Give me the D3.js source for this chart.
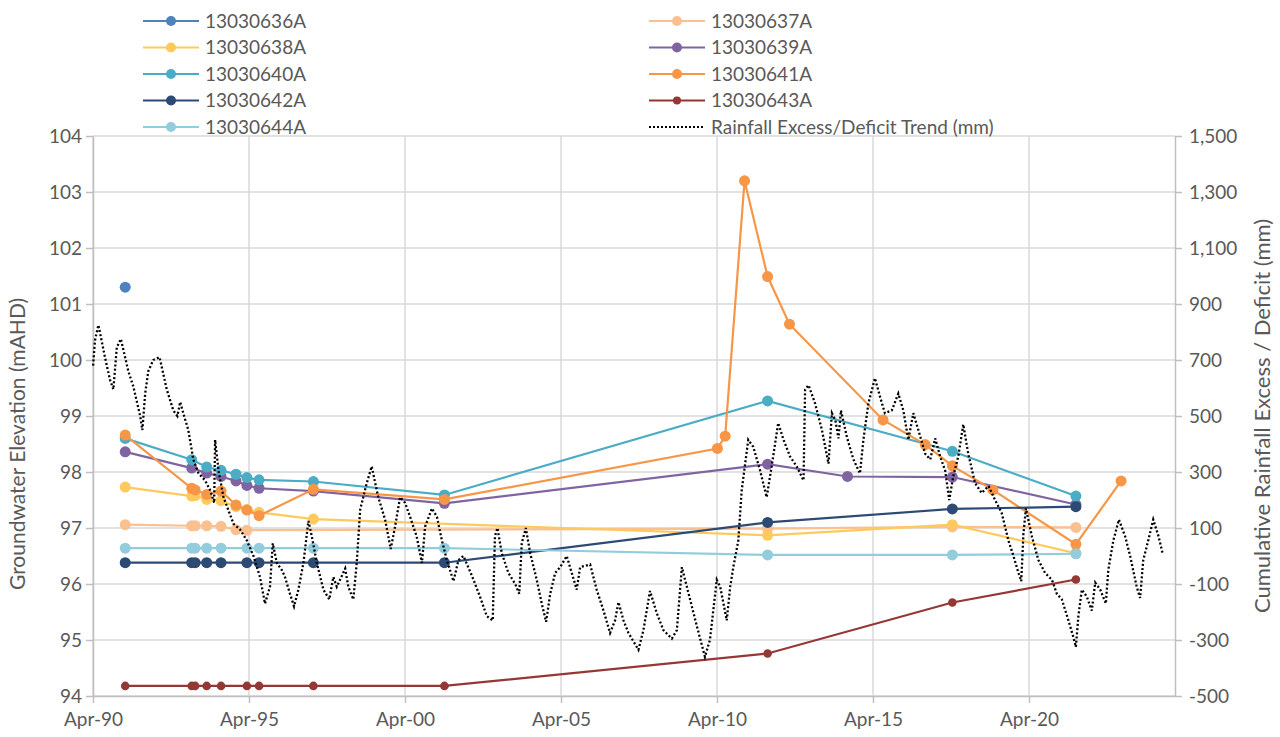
<!DOCTYPE html>
<html>
<head>
<meta charset="utf-8">
<script src="https://cdn.jsdelivr.net/npm/d3@7"></script>
<style>
  body { margin: 0; background: #fff; }
  svg text { font-family: Lato, "Open Sans", sans-serif; fill: #595959; }
</style>
</head>
<body>
<svg width="1280" height="737"></svg>
<script>
// sample dates are decimal years, levels in mAHD
var s636Years = [1991.28];
var s636Levels = [101.30];

var s637Years = [1991.28, 1993.41, 1993.52, 1993.89, 1994.35, 1994.83, 1995.18, 2011.87, 2017.79, 2021.75];
var s637Levels = [97.06, 97.04, 97.04, 97.04, 97.03, 96.97, 96.96, 96.99, 97.02, 97.01];

var s638Years = [1991.28, 1993.41, 1993.52, 1993.89, 1994.35, 1994.83, 1995.18, 1995.57, 1997.31, 2011.87, 2017.79, 2021.75];
var s638Levels = [97.73, 97.57, 97.58, 97.51, 97.49, 97.38, 97.33, 97.28, 97.16, 96.87, 97.06, 96.55];

var s639Years = [1991.28, 1993.41, 1993.89, 1994.35, 1994.83, 1995.18, 1995.57, 1997.31, 2001.51, 2011.87, 2014.43, 2017.79, 2021.75];
var s639Levels = [98.36, 98.07, 97.98, 97.92, 97.84, 97.76, 97.71, 97.66, 97.44, 98.14, 97.92, 97.91, 97.42];

var s640Years = [1991.28, 1993.41, 1993.89, 1994.35, 1994.83, 1995.18, 1995.57, 1997.31, 2001.51, 2011.87, 2017.79, 2021.75];
var s640Levels = [98.60, 98.22, 98.09, 98.03, 97.96, 97.90, 97.86, 97.83, 97.59, 99.27, 98.37, 97.57];

var s641Years = [1991.28, 1993.41, 1993.52, 1993.89, 1994.35, 1994.83, 1995.18, 1995.57, 1997.31, 2001.51,
  2010.26, 2010.51, 2011.13, 2011.87, 2012.57, 2015.57, 2016.92, 2017.79, 2019.09, 2021.75, 2023.20];
var s641Levels = [98.66, 97.71, 97.68, 97.60, 97.66, 97.41, 97.32, 97.22, 97.69, 97.51,
  98.42, 98.64, 103.20, 101.49, 100.64, 98.93, 98.49, 98.11, 97.68, 96.71, 97.84];

var s642Years = [1991.28, 1993.41, 1993.52, 1993.89, 1994.35, 1995.18, 1995.57, 1997.31, 2001.51, 2011.87, 2017.79, 2021.75];
var s642Levels = [96.38, 96.38, 96.38, 96.38, 96.38, 96.38, 96.38, 96.38, 96.38, 97.10, 97.34, 97.38];

var s643Years = [1991.28, 1993.41, 1993.52, 1993.89, 1994.35, 1995.18, 1995.57, 1997.31, 2001.51, 2011.87, 2017.79, 2021.75];
var s643Levels = [94.18, 94.18, 94.18, 94.18, 94.18, 94.18, 94.18, 94.18, 94.18, 94.76, 95.67, 96.08];

var s644Years = [1991.28, 1993.41, 1993.52, 1993.89, 1994.35, 1995.18, 1995.57, 1997.31, 2001.51, 2011.87, 2017.79, 2021.75];
var s644Levels = [96.64, 96.64, 96.64, 96.64, 96.64, 96.64, 96.64, 96.64, 96.64, 96.52, 96.52, 96.54];

// rainfall excess / deficit trend (mm), right axis
var rainYears = [1990.25, 1990.31, 1990.42, 1990.63, 1990.79, 1990.90, 1991.01, 1991.14, 1991.38, 1991.54,
  1991.76, 1991.83, 1991.92, 1992.02, 1992.18, 1992.38, 1992.61, 1992.82, 1992.95, 1993.04,
  1993.14, 1993.30, 1993.46, 1993.63, 1993.84, 1994.00, 1994.13, 1994.16, 1994.27, 1994.43,
  1994.75, 1994.96, 1995.18, 1995.39, 1995.60, 1995.76, 1995.92, 1996.01, 1996.14, 1996.30,
  1996.40, 1996.56, 1996.69, 1996.83, 1996.99, 1997.15, 1997.26, 1997.42, 1997.63, 1997.82,
  1997.95, 1998.06, 1998.33, 1998.43, 1998.59, 1998.70, 1998.81, 1999.02, 1999.18, 1999.39,
  1999.61, 1999.79, 1999.93, 2000.09, 2000.25, 2000.41, 2000.62, 2000.79, 2000.89, 2001.11,
  2001.27, 2001.43, 2001.59, 2001.80, 2001.96, 2002.12, 2002.39, 2002.65, 2002.87, 2003.06,
  2003.13, 2003.21, 2003.35, 2003.56, 2003.78, 2003.91, 2003.99, 2004.12, 2004.26, 2004.47,
  2004.63, 2004.77, 2004.90, 2005.06, 2005.22, 2005.43, 2005.59, 2005.75, 2005.86, 2006.18,
  2006.39, 2006.61, 2006.82, 2006.98, 2007.09, 2007.25, 2007.41, 2007.73, 2007.89, 2008.10,
  2008.32, 2008.53, 2008.80, 2008.96, 2009.12, 2009.28, 2009.60, 2009.86, 2010.02, 2010.24,
  2010.35, 2010.56, 2010.67, 2010.77, 2010.93, 2011.04, 2011.25, 2011.41, 2011.63, 2011.84,
  2012.00, 2012.21, 2012.38, 2012.59, 2012.80, 2013.02, 2013.07, 2013.18, 2013.39, 2013.61,
  2013.82, 2013.93, 2014.04, 2014.14, 2014.22, 2014.41, 2014.62, 2014.83, 2014.94, 2015.10,
  2015.31, 2015.47, 2015.63, 2015.85, 2016.06, 2016.22, 2016.38, 2016.54, 2016.70, 2016.92,
  2017.08, 2017.24, 2017.40, 2017.56, 2017.69, 2017.82, 2017.98, 2018.14, 2018.30, 2018.52,
  2018.73, 2018.95, 2019.16, 2019.37, 2019.59, 2019.75, 2019.91, 2020.00, 2020.07, 2020.15,
  2020.34, 2020.55, 2020.76, 2020.98, 2021.14, 2021.30, 2021.51, 2021.67, 2021.75, 2021.83,
  2021.94, 2022.10, 2022.26, 2022.37, 2022.53, 2022.71, 2022.79, 2022.95, 2023.13, 2023.33,
  2023.49, 2023.70, 2023.81, 2023.91, 2024.07, 2024.23, 2024.40, 2024.54];
var rainMm = [680, 770, 825, 710, 630, 595, 745, 775, 660, 605,
  500, 450, 580, 660, 700, 710, 595, 520, 500, 550,
  510, 450, 345, 295, 270, 235, 190, 415, 305, 210,
  115, 95, 55, 0, -75, -170, -110, 45, -25, -50,
  -75, -135, -180, -120, -25, 125, 70, -25, -120, -155,
  -75, -110, -45, -110, -155, -25, 165, 260, 320, 210,
  130, 25, 105, 210, 190, 140, 70, -25, 105, 170,
  140, 55, -15, -90, -15, 0, -70, -145, -215, -230,
  70, 100, 10, -60, -100, -135, 45, 100, 10, -85,
  -170, -235, -135, -60, -40, 0, -60, -120, -40, -30,
  -120, -195, -275, -230, -165, -230, -275, -335, -265, -125,
  -205, -265, -295, -265, -40, -110, -250, -360, -300, -85,
  -110, -230, -110, -40, 55, 235, 415, 390, 305, 210,
  320, 475, 415, 355, 320, 270, 595, 610, 545, 450,
  330, 510, 485, 420, 520, 425, 345, 295, 415, 545,
  635, 570, 510, 520, 580, 520, 415, 510, 450, 365,
  345, 420, 355, 305, 200, 285, 355, 470, 365, 260,
  225, 250, 200, 155, 55, 0, -60, -90, 80, 170,
  70, -15, -60, -85, -135, -155, -230, -290, -325, -215,
  -120, -145, -195, -95, -120, -170, -50, 55, 130, 70,
  0, -110, -150, -15, 55, 130, 70, 5];

var leftTicks = [94, 95, 96, 97, 98, 99, 100, 101, 102, 103, 104];
var rightTicks = [-500, -300, -100, 100, 300, 500, 700, 900, 1100, 1300, 1500];
var xTickYears = [1990, 1995, 2000, 2005, 2010, 2015, 2020];

var seriesNames = ['13030636A', '13030637A', '13030638A', '13030639A', '13030640A',
  '13030641A', '13030642A', '13030643A', '13030644A'];
var seriesColors = ['#4F81BD', '#FAC090', '#FFC95E', '#8064A2', '#4BACC6',
  '#F79646', '#2C4A74', '#953735', '#93CDDD'];
var seriesYears = [s636Years, s637Years, s638Years, s639Years, s640Years, s641Years, s642Years, s643Years, s644Years];
var seriesLevels = [s636Levels, s637Levels, s638Levels, s639Levels, s640Levels, s641Levels, s642Levels, s643Levels, s644Levels];
var rainName = 'Rainfall Excess/Deficit Trend (mm)';

// decimal year -> Date
function toDate(y) {
    var yr = Math.floor(y);
    var a = new Date(yr, 0, 1), b = new Date(yr + 1, 0, 1);
    return new Date(+a + (y - yr) * (b - a));
}

var svg = d3.select("svg");
var plotL = 93, plotR = 1175, plotT = 136, plotB = 696;

var x = d3.scaleTime().domain([new Date(1990, 3, 1), new Date(2024, 11, 5)]).range([plotL, plotR]);
var yL = d3.scaleLinear().domain([94, 104]).range([plotB, plotT]);
var yR = d3.scaleLinear().domain([-500, 1500]).range([plotB, plotT]);

//gridlines
var grid = svg.append('g');
grid.selectAll('.h').data(leftTicks).enter().append('line')
    .attr('x1', plotL).attr('x2', plotR).attr('y1', d => yL(d)).attr('y2', d => yL(d))
    .attr('stroke', '#D9D9D9').attr('stroke-width', 1.5);
grid.selectAll('.v').data(xTickYears).enter().append('line')
    .attr('x1', d => x(new Date(d, 3, 1))).attr('x2', d => x(new Date(d, 3, 1)))
    .attr('y1', plotT).attr('y2', plotB)
    .attr('stroke', '#D9D9D9').attr('stroke-width', 1.5);

//axes
function styleAxis(g) {
    g.selectAll('path, line').attr('stroke', '#BFBFBF').attr('stroke-width', 1.5);
    g.selectAll('text').attr('font-size', 19).attr('fill', '#595959')
        .style('font-family', 'Lato, "Open Sans", sans-serif');
}
svg.append('g').attr('transform', 'translate(' + plotL + ',0)')
    .call(d3.axisLeft(yL).tickValues(leftTicks).tickSize(7).tickSizeOuter(0).tickPadding(4))
    .call(styleAxis);
svg.append('g').attr('transform', 'translate(' + plotR + ',0)')
    .call(d3.axisRight(yR).tickValues(rightTicks).tickSize(7).tickSizeOuter(0).tickPadding(7)
        .tickFormat(v => d3.format(',')(v).replace('\u2212', '-')))
    .call(styleAxis);
svg.append('g').attr('transform', 'translate(0,' + plotB + ')')
    .call(d3.axisBottom(x).tickValues(xTickYears.map(d => new Date(d, 3, 1))).tickSize(7).tickSizeOuter(0)
        .tickPadding(10).tickFormat(d3.timeFormat('%b-%y')))
    .call(styleAxis);

//axis titles
svg.append('text').attr('transform', 'translate(25,444) rotate(-90)')
    .attr('text-anchor', 'middle').attr('font-size', 21).text('Groundwater Elevation (mAHD)');
svg.append('text').attr('transform', 'translate(1270,' + (plotT + plotB) / 2 + ') rotate(-90)')
    .attr('text-anchor', 'middle').attr('font-size', 22).text('Cumulative Rainfall Excess / Deficit (mm)');

//bore series
var line = d3.line().x(d => x(toDate(d[0]))).y(d => yL(d[1]));
seriesNames.forEach((name, i) => {
    var pts = seriesYears[i].map((yr, j) => [yr, seriesLevels[i][j]]);
    var r = name == '13030643A' ? 4.3 : 5.5;
    svg.append('path').datum(pts).attr('d', line)
        .attr('fill', 'none').attr('stroke', seriesColors[i]).attr('stroke-width', 2.2);
    svg.append('g').selectAll('circle').data(pts).enter().append('circle')
        .attr('cx', d => x(toDate(d[0]))).attr('cy', d => yL(d[1])).attr('r', r)
        .attr('fill', seriesColors[i]);
});

//rainfall trend, dotted
var rainLine = d3.line().x(d => x(toDate(d[0]))).y(d => yR(d[1]));
svg.append('path').datum(rainYears.map((yr, i) => [yr, rainMm[i]])).attr('d', rainLine)
    .attr('fill', 'none').attr('stroke', '#000').attr('stroke-width', 2.3)
    .attr('stroke-dasharray', '2,2.2');

//legend
var legNames = seriesNames.concat([rainName]);
legNames.forEach((name, i) => {
    var col = i % 2, row = Math.floor(i / 2);
    var lx = col == 0 ? 143 : 649;
    var ly = 21 + row * 26.5;
    var g = svg.append('g').attr('transform', 'translate(' + lx + ',' + ly + ')');
    if (i < seriesNames.length) {
        g.append('line').attr('x1', 0).attr('x2', 56).attr('stroke', seriesColors[i]).attr('stroke-width', 2.2);
        g.append('circle').attr('cx', 28).attr('r', name == '13030643A' ? 4 : 5).attr('fill', seriesColors[i]);
    } else {
        g.append('line').attr('x1', 0).attr('x2', 54).attr('stroke', '#000').attr('stroke-width', 2.2)
            .attr('stroke-dasharray', '2,2');
    }
    g.append('text').attr('x', 62).attr('y', 6.5).attr('font-size', 19).text(name);
});
</script>
</body>
</html>
